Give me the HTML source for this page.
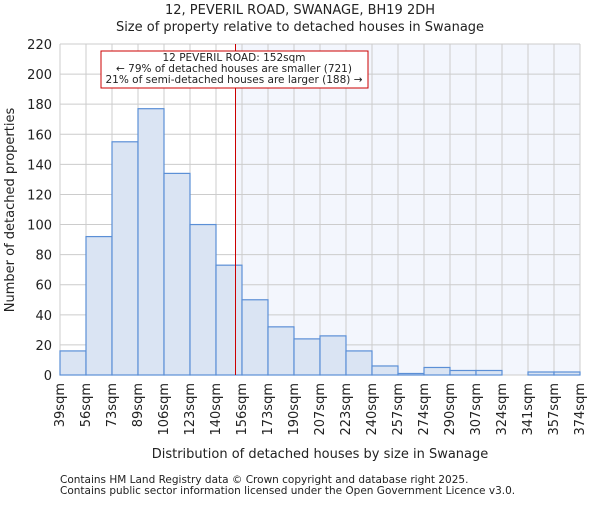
<!DOCTYPE html>
<html><head><meta charset="utf-8"><style>
body{margin:0;background:#fff;font-family:"Liberation Sans","DejaVu Sans",sans-serif}
svg text{font-family:"DejaVu Sans","Liberation Sans",sans-serif;fill:#222}
</style></head><body>
<svg id="c" width="600" height="500" xmlns="http://www.w3.org/2000/svg"></svg>
<script>
const labels=["39sqm","56sqm","73sqm","89sqm","106sqm","123sqm","140sqm","156sqm","173sqm","190sqm","207sqm","223sqm","240sqm","257sqm","274sqm","290sqm","307sqm","324sqm","341sqm","357sqm","374sqm"];
const values=[16,92,155,177,134,100,73,50,32,24,26,16,6,1,5,3,3,0,2,2];
const yTicks=[0,20,40,60,80,100,120,140,160,180,200,220];
const edges=[39,56,73,89,106,123,140,156,173,190,207,223,240,257,274,290,307,324,341,357,374];
const marker=152;
const L=60,R=580,T=44,B=375,YMAX=220;
const n=values.length,bw=(R-L)/n;
const y=v=>B-(v/YMAX)*(B-T);
const xi=i=>L+i*bw;
function xv(v){for(let i=0;i<edges.length-1;i++){if(v<=edges[i+1])return xi(i)+(v-edges[i])/(edges[i+1]-edges[i])*bw;}return R;}
const s=document.getElementById('c'),NS="http://www.w3.org/2000/svg";
function add(tag,attrs,txt){const e=document.createElementNS(NS,tag);for(const k in attrs)e.setAttribute(k,attrs[k]);if(txt!=null)e.textContent=txt;s.appendChild(e);return e;}
const mx=xv(marker);
let e=add('rect',{x:mx,y:T,width:R-mx,height:B-T,fill:'#f3f6fd'});


for(const t of yTicks){e=add('line',{x1:L,x2:R,y1:y(t),y2:y(t),stroke:'#ccc','stroke-width':1});


e=add('text',{x:L-8,y:y(t)+5,'text-anchor':'end','font-size':13},t);

}
for(let i=0;i<=n;i++){e=add('line',{x1:xi(i),x2:xi(i),y1:T,y2:B,stroke:'#ccc','stroke-width':1});

}
values.forEach((v,i)=>{e=add('rect',{x:xi(i),y:y(v),width:bw,height:B-y(v),fill:'#dae4f3',stroke:'#5b8fd6','stroke-width':1.2});

});
labels.forEach((l,i)=>{const x=xi(i)+4;e=add('text',{x:x,y:B+8,'font-size':13,transform:`rotate(-90 ${x} ${B+8})`,'text-anchor':'end'},l);

});
e=add('line',{x1:mx,x2:mx,y1:T,y2:B,stroke:'#c00','stroke-width':1});


e=add('rect',{x:101,y:51,width:267,height:37,fill:'#fff',stroke:'#c00','stroke-width':1});


[["12 PEVERIL ROAD: 152sqm",61],["← 79% of detached houses are smaller (721)",72],["21% of semi-detached houses are larger (188) →",83]].forEach(a=>{e=add('text',{x:234,y:a[1],'text-anchor':'middle','font-size':10.5},a[0]);

});
e=add('text',{x:300,y:14,'text-anchor':'middle','font-size':13},"12, PEVERIL ROAD, SWANAGE, BH19 2DH");


e=add('text',{x:300,y:31,'text-anchor':'middle','font-size':13},"Size of property relative to detached houses in Swanage");


e=add('text',{x:14,y:210,'text-anchor':'middle','font-size':13,transform:'rotate(-90 14 210)'},"Number of detached properties");


e=add('text',{x:320,y:458,'text-anchor':'middle','font-size':13},"Distribution of detached houses by size in Swanage");


e=add('text',{x:60,y:483,'font-size':10.5,fill:'#444'},"Contains HM Land Registry data © Crown copyright and database right 2025.");


e=add('text',{x:60,y:494,'font-size':10.5,fill:'#444'},"Contains public sector information licensed under the Open Government Licence v3.0.");


</script>
</body></html>
